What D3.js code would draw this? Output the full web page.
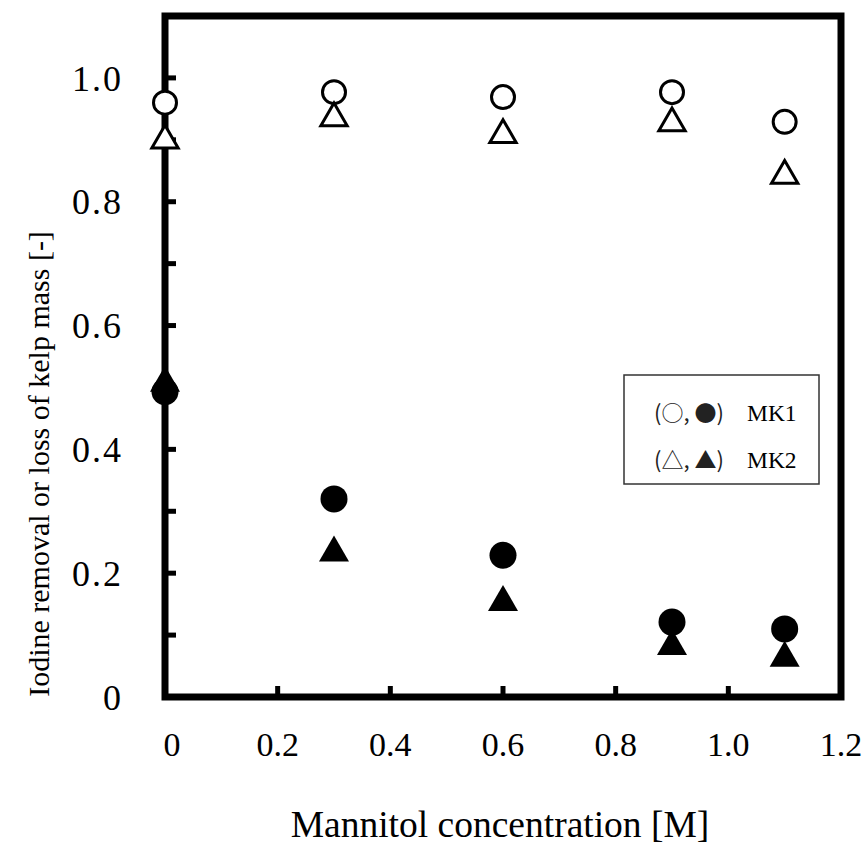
<!DOCTYPE html>
<html>
<head>
<meta charset="utf-8">
<script src="https://cdn.jsdelivr.net/npm/d3@7"></script>
</head>
<body style="margin:0; background:#fff">
<div id="chart"></div>
<script>
// mannitol concentration [M]
const conc = [0, 0.3, 0.6, 0.9, 1.1];
// open markers: iodine removal, filled markers: kelp mass loss
const mk1Removal = [0.96, 0.977, 0.969, 0.977, 0.929];
const mk2Removal = [0.899, 0.935, 0.908, 0.927, 0.842];
const mk1Loss = [0.493, 0.32, 0.229, 0.121, 0.11];
const mk2Loss = [0.507, 0.233, 0.153, 0.082, 0.063];

const xTickLabels = [0, 0.2, 0.4, 0.6, 0.8, 1.0, 1.2];
const yTickLabels = [0, 0.2, 0.4, 0.6, 0.8, 1.0];
const yMinorTicks = [0.1, 0.2, 0.3, 0.4, 0.5, 0.6, 0.7, 0.8, 0.9, 1.0];
const xMinorTicks = [0.2, 0.4, 0.6, 0.8, 1.0];

const serifFont = "'Liberation Serif', 'Times New Roman', Tinos, serif";
const symFont = "'Noto Sans CJK JP', 'DejaVu Sans', sans-serif";

const width = 863;
const height = 847;
const margin = { top: 16, right: 22, bottom: 150, left: 165 };

const svg = d3.select('#chart')
  .append('svg')
  .attr('width', width)
  .attr('height', height);

const x = d3.scaleLinear()
  .domain([0, 1.2])
  .range([margin.left, width - margin.right]);

const y = d3.scaleLinear()
  .domain([0, 1.1])
  .range([height - margin.bottom, margin.top]);

// frame
svg.append('rect')
  .attr('x', x(0))
  .attr('y', y(1.1))
  .attr('width', x(1.2) - x(0))
  .attr('height', y(0) - y(1.1))
  .attr('fill', 'none')
  .attr('stroke', '#000')
  .attr('stroke-width', 7);

// inward ticks
svg.append('g')
  .selectAll('line')
  .data(yMinorTicks)
  .join('line')
    .attr('x1', x(0))
    .attr('x2', x(0) + 11)
    .attr('y1', d => y(d))
    .attr('y2', d => y(d))
    .attr('stroke', '#000')
    .attr('stroke-width', 5);

svg.append('g')
  .selectAll('line')
  .data(xMinorTicks)
  .join('line')
    .attr('x1', d => x(d))
    .attr('x2', d => x(d))
    .attr('y1', y(0))
    .attr('y2', y(0) - 11)
    .attr('stroke', '#000')
    .attr('stroke-width', 5);

// tick labels
svg.append('g')
  .selectAll('text')
  .data(yTickLabels)
  .join('text')
    .attr('x', 123)
    .attr('y', d => y(d))
    .attr('dy', '0.35em')
    .attr('text-anchor', 'end')
    .style('font-family', serifFont)
    .style('font-size', '36px')
    .style('letter-spacing', '2px')
    .text(d => d === 0 ? '0' : d.toFixed(1));

svg.append('g')
  .selectAll('text')
  .data(xTickLabels)
  .join('text')
    .attr('x', d => x(d) + (d === 0 ? 7 : 0))
    .attr('y', 756)
    .attr('text-anchor', 'middle')
    .style('font-family', serifFont)
    .style('font-size', '34px')
    .text(d => d === 0 ? '0' : d.toFixed(1));

// axis titles
svg.append('text')
  .attr('x', 500)
  .attr('y', 837)
  .attr('text-anchor', 'middle')
  .style('font-family', serifFont)
  .style('font-size', '37.5px')
  .text('Mannitol concentration [M]');

svg.append('text')
  .attr('transform', 'translate(49,464) rotate(-90)')
  .attr('text-anchor', 'middle')
  .style('font-family', serifFont)
  .style('font-size', '30px')
  .text('Iodine removal or loss of kelp mass [-]');

// markers
const pts = (vals) => conc.map((c, i) => ({ x: c, y: vals[i] }));
const triOpen = d3.symbol().type(d3.symbolTriangle).size(300);
const triFill = d3.symbol().type(d3.symbolTriangle).size(390);

svg.append('g')
  .selectAll('circle')
  .data(pts(mk1Removal))
  .join('circle')
    .attr('cx', d => x(d.x))
    .attr('cy', d => y(d.y))
    .attr('r', 11.5)
    .attr('fill', '#fff')
    .attr('stroke', '#000')
    .attr('stroke-width', 3);

svg.append('g')
  .selectAll('path')
  .data(pts(mk2Removal))
  .join('path')
    .attr('transform', d => `translate(${x(d.x)},${y(d.y)})`)
    .attr('d', triOpen)
    .attr('fill', '#fff')
    .attr('stroke', '#000')
    .attr('stroke-width', 3);

svg.append('g')
  .selectAll('path')
  .data(pts(mk2Loss))
  .join('path')
    .attr('transform', d => `translate(${x(d.x)},${y(d.y)})`)
    .attr('d', triFill)
    .attr('fill', '#000');

svg.append('g')
  .selectAll('circle')
  .data(pts(mk1Loss))
  .join('circle')
    .attr('cx', d => x(d.x))
    .attr('cy', d => y(d.y))
    .attr('r', 13.5)
    .attr('fill', '#000');

// legend
const legend = svg.append('g');
legend.append('rect')
  .attr('x', 624)
  .attr('y', 375)
  .attr('width', 195)
  .attr('height', 109)
  .attr('fill', '#fff')
  .attr('stroke', '#333')
  .attr('stroke-width', 1.5);

const legendRows = [
  { sym: '(○, ●)', name: 'MK1', y: 421 },
  { sym: '(△, ▲)', name: 'MK2', y: 468 }
];
legend.selectAll('text.sym')
  .data(legendRows)
  .join('text')
    .attr('class', 'sym')
    .attr('x', 654)
    .attr('y', d => d.y)
    .attr('fill', '#222')
    .style('font-family', symFont)
    .style('font-size', '22px')
    .text(d => d.sym);
legend.selectAll('text.name')
  .data(legendRows)
  .join('text')
    .attr('class', 'name')
    .attr('x', 747)
    .attr('y', d => d.y)
    .style('font-family', serifFont)
    .style('font-size', '23.5px')
    .text(d => d.name);
</script>
</body>
</html>
